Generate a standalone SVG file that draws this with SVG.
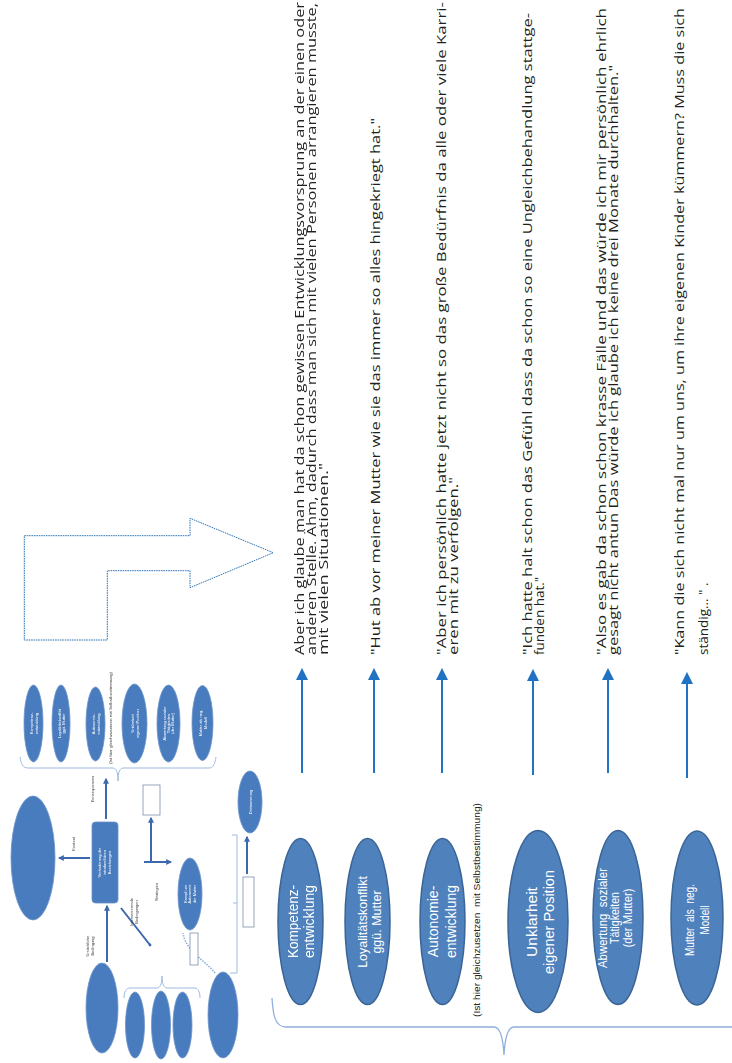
<svg xmlns="http://www.w3.org/2000/svg" width="732" height="1063" viewBox="0 0 732 1063">
  <defs>
    <style>
      .bubble { fill: #4f81bd; stroke: #3b6596; stroke-width: 1.5; }
      .bubble-label { font-family: "Liberation Sans", Arial, sans-serif; fill: #ffffff; text-anchor: middle; white-space: pre; }
      .quote { font-family: "Open Sans", "Noto Sans", sans-serif; font-size: 13.5px; fill: #231f20; white-space: pre; }
      .link { stroke: #1f73c2; stroke-width: 2; fill: none; marker-end: url(#head); }
      .brace { fill: none; stroke: #8fb0dc; stroke-width: 1.3; }
      .mini-bubble { fill: #4a7cbe; stroke: #6b93c9; stroke-width: 0.8; }
      .mini-label { font-family: "Liberation Sans", Arial, sans-serif; font-size: 4px; fill: #ffffff; text-anchor: middle; }
      .mini-note { font-family: "Liberation Sans", Arial, sans-serif; font-size: 4px; fill: #444444; text-anchor: middle; }
      .mini-link { stroke: #3d68ad; stroke-width: 2; fill: none; }
      .mini-brace { fill: none; stroke: #9db9df; stroke-width: 1; }
      .mini-box { fill: #ffffff; stroke: #7f8fa6; stroke-width: 0.8; }
    </style>
    <marker id="head" viewBox="0 0 12 12" refX="10" refY="6" markerWidth="6.2" markerHeight="6.2" markerUnits="strokeWidth" orient="auto">
      <path d="M0,0 L12,6 L0,12 Z" fill="#1f73c2"/>
    </marker>
    <marker id="minihead" viewBox="0 0 10 10" refX="8" refY="5" markerWidth="3" markerHeight="3" markerUnits="strokeWidth" orient="auto">
      <path d="M0,0 L10,5 L0,10 Z" fill="#3d68ad"/>
    </marker>
    <filter id="soft" x="-5%" y="-5%" width="110%" height="110%">
      <feGaussianBlur stdDeviation="0.55"/>
    </filter>
  </defs>

  <rect width="732" height="1063" fill="#ffffff"/>

  <!-- overview sketch of the full model, shown small and soft -->
  <g id="overview" filter="url(#soft)">
    <!-- consequence bubbles, top row -->
    <ellipse class="mini-bubble" cx="33.5" cy="723.5" rx="9.5" ry="38.5"/>
    <ellipse class="mini-bubble" cx="61" cy="723.5" rx="9" ry="38.5"/>
    <ellipse class="mini-bubble" cx="95.5" cy="724" rx="9.5" ry="37"/>
    <ellipse class="mini-bubble" cx="134.5" cy="723.5" rx="12.5" ry="39.5"/>
    <ellipse class="mini-bubble" cx="168.5" cy="723.5" rx="11.5" ry="38.5"/>
    <ellipse class="mini-bubble" cx="202.5" cy="723" rx="10.5" ry="37.5"/>
    <g class="mini-label">
      <text transform="translate(33.5,723.5) rotate(-90)"><tspan x="0" y="-0.5">Kompetenz-</tspan><tspan x="0" y="4">entwicklung</tspan></text>
      <text transform="translate(61,723.5) rotate(-90)"><tspan x="0" y="-0.5">Loyalitätskonflikt</tspan><tspan x="0" y="4">ggü. Mutter</tspan></text>
      <text transform="translate(95.5,724) rotate(-90)"><tspan x="0" y="-0.5">Autonomie-</tspan><tspan x="0" y="4">entwicklung</tspan></text>
      <text transform="translate(134.5,723.5) rotate(-90)"><tspan x="0" y="-0.5">Unklarheit</tspan><tspan x="0" y="4">eigener Position</tspan></text>
      <text transform="translate(168.5,723.5) rotate(-90)"><tspan x="0" y="-2.5">Abwertung sozialer</tspan><tspan x="0" y="1.5">Tätigkeiten</tspan><tspan x="0" y="5.5">(der Mutter)</tspan></text>
      <text transform="translate(202.5,723) rotate(-90)"><tspan x="0" y="-0.5">Mutter als neg.</tspan><tspan x="0" y="4">Modell</tspan></text>
    </g>
    <text class="mini-note" transform="translate(111.5,718) rotate(-90)" font-size="3.6" textLength="92" lengthAdjust="spacingAndGlyphs">(Ist hier gleichzusetzen mit Selbstbestimmung)</text>
    <path class="mini-brace" d="M20,757 C21,764 23,768 28,768 L113,768 C116,768 118,772 118,781 C118,772 120,768 123,768 L209,768 C213,768 215,764 216,757"/>

    <!-- centre phenomenon -->
    <rect class="mini-bubble" x="92" y="822" width="26" height="81" rx="3.5"/>
    <text class="mini-label" transform="translate(105,862.5) rotate(-90)" font-size="4.4"><tspan x="0" y="-4">Veränderung der</tspan><tspan x="0" y="1">intrafamiliären</tspan><tspan x="0" y="6">Beziehungen</tspan></text>

    <!-- context -->
    <ellipse class="mini-bubble" cx="33" cy="858" rx="22" ry="62"/>
    <line class="mini-link" x1="90" y1="858" x2="59" y2="858" marker-end="url(#minihead)"/>
    <text class="mini-note" transform="translate(75,844) rotate(-90)">Kontext</text>

    <!-- consequences -->
    <line class="mini-link" x1="106" y1="819" x2="106" y2="779" marker-end="url(#minihead)"/>
    <text class="mini-note" transform="translate(94,789) rotate(-90)">Konsequenzen</text>

    <!-- causal condition -->
    <ellipse class="mini-bubble" cx="102" cy="1008" rx="16" ry="45"/>
    <line class="mini-link" x1="107" y1="962" x2="107" y2="906" marker-end="url(#minihead)"/>
    <text class="mini-note" transform="translate(93,946) rotate(-90)"><tspan x="0" y="-4">Ursächliche</tspan><tspan x="0" y="1">Bedingung</tspan></text>

    <!-- intervening conditions -->
    <line class="mini-link" x1="121" y1="908" x2="150" y2="945"/>
    <circle cx="150" cy="945" r="1.4" fill="#3d68ad"/>
    <text class="mini-note" transform="translate(136,912) rotate(-90)"><tspan x="0" y="-3">Intervenierende</tspan><tspan x="0" y="2">Bedingungen</tspan></text>
    <path class="mini-brace" d="M124,998 C124,992 126,988 130,988 L157,988 C160,988 162,984 162,976 C162,984 164,988 167,988 L195,988 C198,988 200,992 200,998"/>
    <ellipse class="mini-bubble" cx="135" cy="1025" rx="9.5" ry="33"/>
    <ellipse class="mini-bubble" cx="161" cy="1025" rx="9.5" ry="34"/>
    <ellipse class="mini-bubble" cx="182.5" cy="1025" rx="9.5" ry="33"/>
    <ellipse class="mini-bubble" cx="223" cy="1015" rx="15" ry="43"/>

    <!-- strategies -->
    <line class="mini-link" x1="144" y1="862" x2="171" y2="862" marker-end="url(#minihead)"/>
    <line class="mini-link" x1="151" y1="861" x2="151" y2="818" stroke-width="1.2" marker-end="url(#minihead)"/>
    <rect class="mini-box" x="143" y="785" width="17" height="30"/>
    <text class="mini-note" transform="translate(158,892) rotate(-90)">Strategien</text>
    <ellipse class="mini-bubble" cx="190" cy="894" rx="12" ry="36"/>
    <text class="mini-label" transform="translate(190,894) rotate(-90)"><tspan x="0" y="-3.5">Kampf um</tspan><tspan x="0" y="1">Autonomie</tspan><tspan x="0" y="5.5">der Mutter</tspan></text>
    <path d="M215,973 C205,960 186,952 183,933" fill="none" stroke="#8fb0dc" stroke-width="1.6" stroke-dasharray="1.5 1.2"/>
    <rect class="mini-box" x="190" y="933" width="8" height="32"/>

    <!-- distancing -->
    <ellipse class="mini-bubble" cx="250" cy="802" rx="12" ry="31"/>
    <text class="mini-label" transform="translate(250,802) rotate(-90)" y="1.5">Distanzierung</text>
    <line class="mini-link" x1="247" y1="874" x2="247" y2="837" stroke-width="3" marker-end="url(#minihead)"/>
    <rect class="mini-box" x="243" y="877" width="11" height="50"/>
    <path class="mini-brace" d="M232,835 H237 V973 H230 M237,903 H233"/>
  </g>

  <!-- bent block arrow leading to the quotes -->
  <path id="bent-arrow" d="M24.3,535.7 H190 V518.3 L273.3,552.7 L190,587.7 V570.7 H107.3 V640 H24.3 Z" fill="none" stroke="#2e75b6" stroke-width="1" stroke-dasharray="1.6 0.8"/>

  <!-- category nodes -->
  <g id="kompetenz">
    <ellipse class="bubble" cx="300.5" cy="921.5" rx="22.5" ry="83"/>
    <text class="bubble-label" transform="translate(300.5,921.5) rotate(-90)" font-size="14"><tspan x="0" y="-2.5" textLength="73" lengthAdjust="spacingAndGlyphs">Kompetenz-</tspan><tspan x="0" y="13.5">entwicklung</tspan></text>
  </g>
  <g id="loyalitaet">
    <ellipse class="bubble" cx="367.5" cy="921.5" rx="22.5" ry="83"/>
    <text class="bubble-label" transform="translate(367.5,922) rotate(-90)" font-size="12.5"><tspan x="0" y="-1">Loyalitätskonflikt</tspan><tspan x="0" y="13.5">ggü. Mutter</tspan></text>
  </g>
  <g id="autonomie">
    <ellipse class="bubble" cx="442.5" cy="921.5" rx="22.5" ry="83"/>
    <text class="bubble-label" transform="translate(442.5,921.5) rotate(-90)" font-size="14"><tspan x="0" y="-4.5">Autonomie-</tspan><tspan x="0" y="13.5">entwicklung</tspan></text>
  </g>
  <g id="unklarheit">
    <ellipse class="bubble" cx="538" cy="921.5" rx="30" ry="91"/>
    <text class="bubble-label" transform="translate(538,922) rotate(-90)" font-size="15.5"><tspan x="0" y="-1.5">Unklarheit</tspan><tspan x="0" y="15.5" textLength="104" lengthAdjust="spacingAndGlyphs">eigener Position</tspan></text>
  </g>
  <g id="abwertung">
    <ellipse class="bubble" cx="618" cy="917.5" rx="25" ry="87"/>
    <text class="bubble-label" transform="translate(618,918) rotate(-90)" font-size="12.5"><tspan x="0" y="-11" textLength="100" lengthAdjust="spacingAndGlyphs">Abwertung  sozialer</tspan><tspan x="0" y="1" textLength="52" lengthAdjust="spacingAndGlyphs">Tätigkeiten</tspan><tspan x="0" y="14" textLength="59" lengthAdjust="spacingAndGlyphs">(der Mutter)</tspan></text>
  </g>
  <g id="mutter-modell">
    <ellipse class="bubble" cx="697" cy="918" rx="26" ry="87"/>
    <text class="bubble-label" transform="translate(697,920) rotate(-90)" font-size="12.5"><tspan x="0" y="-3" textLength="72" lengthAdjust="spacingAndGlyphs">Mutter  als  neg.</tspan><tspan x="0" y="12" textLength="29" lengthAdjust="spacingAndGlyphs">Modell</tspan></text>
  </g>

  <text id="note" transform="translate(480,1017) rotate(-90)" font-family="Liberation Sans, Arial, sans-serif" font-size="9.5" fill="#222222" textLength="214" lengthAdjust="spacingAndGlyphs" style="white-space:pre">(Ist hier gleichzusetzen  mit Selbstbestimmung)</text>

  <path id="category-brace" class="brace" d="M272,998 C273,1015 275,1027 286,1027 L494,1027 C500,1027 503,1036 504,1055 C505,1036 508,1027 514,1027 L732,1027"/>

  <!-- arrows from categories to interview quotes -->
  <g id="connectors">
    <line class="link" x1="302" y1="773" x2="302" y2="670"/>
    <line class="link" x1="374" y1="773" x2="374" y2="670"/>
    <line class="link" x1="442" y1="773" x2="442" y2="670"/>
    <line class="link" x1="533" y1="775" x2="533" y2="671"/>
    <line class="link" x1="608" y1="773" x2="608" y2="670"/>
    <line class="link" x1="687" y1="778" x2="687" y2="674"/>
  </g>

  <!-- interview quotes -->
  <g id="quotes" class="quote">
    <text transform="translate(304,655) rotate(-90)" textLength="653" lengthAdjust="spacingAndGlyphs">Aber ich glaube man hat da schon gewissen Entwicklungsvorsprung an der einen oder</text>
    <text transform="translate(316,655) rotate(-90)" textLength="652" lengthAdjust="spacingAndGlyphs">anderen Stelle. Ähm, dadurch dass man sich mit vielen Personen arrangieren musste,</text>
    <text transform="translate(328,655) rotate(-90)" textLength="192" lengthAdjust="spacingAndGlyphs">mit vielen Situationen."</text>

    <text transform="translate(380,655) rotate(-90)" textLength="537" lengthAdjust="spacingAndGlyphs">"Hut ab vor meiner Mutter wie sie das immer so alles hingekriegt hat."</text>

    <text transform="translate(446,655) rotate(-90)" textLength="653" lengthAdjust="spacingAndGlyphs">"Aber ich persönlich hatte jetzt nicht so das große Bedürfnis da alle oder viele Karri-</text>
    <text transform="translate(458,655) rotate(-90)" textLength="178" lengthAdjust="spacingAndGlyphs">eren mit zu verfolgen."</text>

    <text transform="translate(532,655) rotate(-90)" textLength="642" lengthAdjust="spacingAndGlyphs">"Ich hatte halt schon das Gefühl dass da schon so eine Ungleichbehandlung stattge-</text>
    <text transform="translate(544,655) rotate(-90)">funden hat."</text>

    <text transform="translate(606,655) rotate(-90)" textLength="647" lengthAdjust="spacingAndGlyphs">"Also es gab da schon schon krasse Fälle und das würde ich mir persönlich ehrlich</text>
    <text transform="translate(618,655) rotate(-90)" textLength="590" lengthAdjust="spacingAndGlyphs">gesagt nicht antun Das würde ich glaube ich keine drei Monate durchhalten."</text>

    <text transform="translate(684,655) rotate(-90)" textLength="647" lengthAdjust="spacingAndGlyphs">"Kann die sich nicht mal nur um uns, um ihre eigenen Kinder kümmern? Muss die sich</text>
    <text transform="translate(708,655) rotate(-90)">ständig… " .</text>
  </g>
</svg>
